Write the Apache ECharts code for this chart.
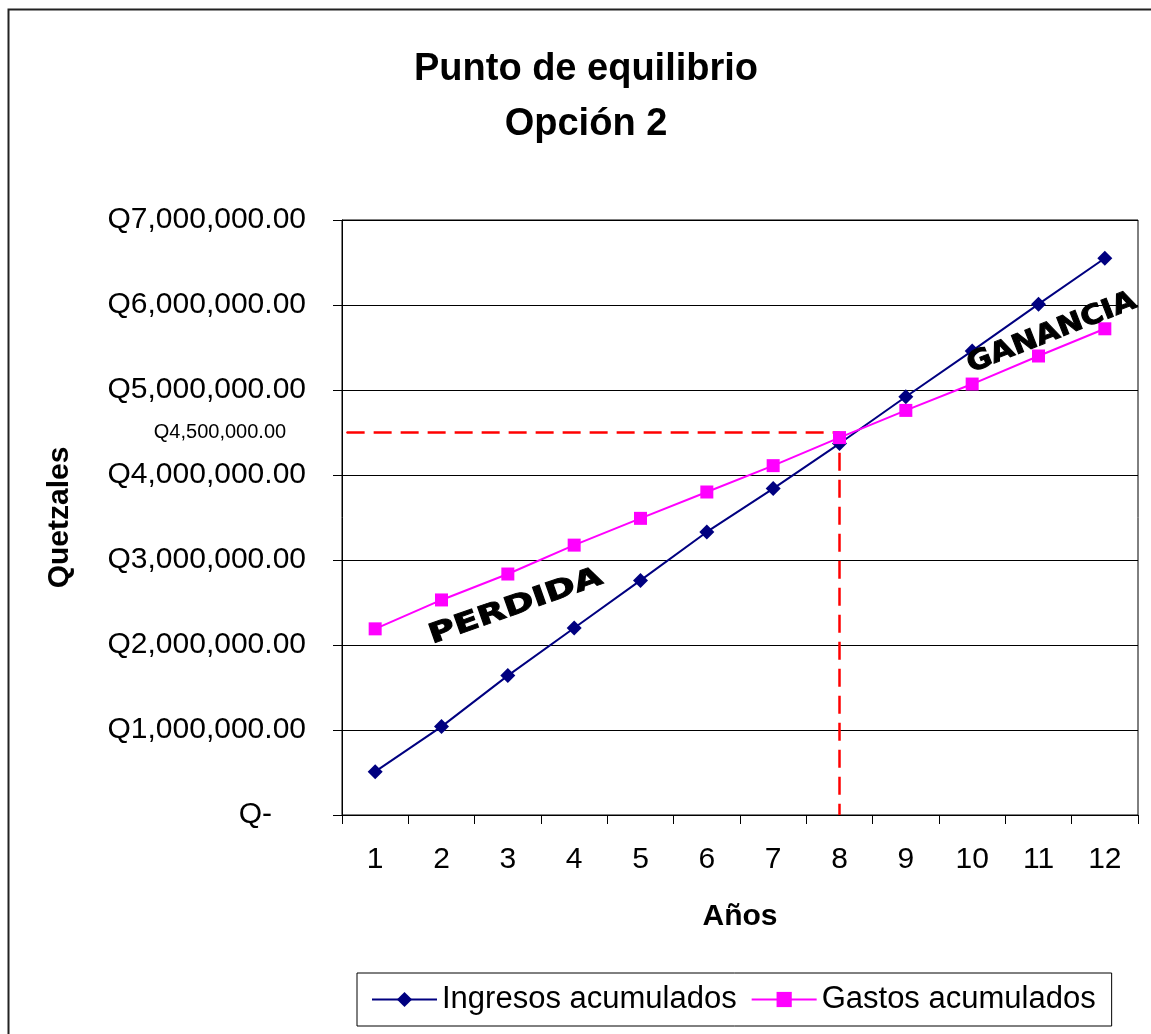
<!DOCTYPE html>
<html>
<head>
<meta charset="utf-8">
<script src="https://cdn.jsdelivr.net/npm/echarts@6/dist/echarts.min.js"></script>
<style>
  html, body { margin: 0; padding: 0; background: #fff; }
  #chart { width: 1151px; height: 1034px; }
</style>
</head>
<body>
<div id="chart"></div>
<script>
// Años del proyecto
const anios = ['1', '2', '3', '4', '5', '6', '7', '8', '9', '10', '11', '12'];
// Ingresos acumulados por año (Q)
const ingresos = [510000, 1040000, 1640000, 2200000, 2760000, 3330000, 3840000, 4370000, 4920000, 5460000, 6010000, 6550000];
// Gastos acumulados por año (Q)
const gastos = [2190000, 2530000, 2835000, 3175000, 3490000, 3800000, 4110000, 4440000, 4760000, 5070000, 5400000, 5720000];
// Punto de equilibrio
const equilibrioMonto = 4500000;
const equilibrioAnio = 8;
// Zonas rotuladas: [posición en años, monto]
const zonaPerdida = [2.62, 2450000];
const zonaGanancia = [10.7, 5670000];

const FONT = 'Arial, "Liberation Sans", sans-serif';

function formatoQ(v) {
  return 'Q' + v.toLocaleString('en-US', { minimumFractionDigits: 2, maximumFractionDigits: 2 });
}

// Columna del año de equilibrio en el eje continuo: centro de la categoría
const centroAnio = equilibrioAnio - 0.5;

const chart = echarts.init(document.getElementById('chart'), null, { renderer: 'canvas' });

const option = {
  animation: false,
  backgroundColor: '#fff',
  title: {
    text: 'Punto de equilibrio\nOpción 2',
    left: 581,
    top: 37,
    textAlign: 'center',
    textStyle: { fontFamily: FONT, fontSize: 38, fontWeight: 'bold', color: '#000', lineHeight: 55 }
  },
  grid: {
    left: 342, top: 220, right: 13, bottom: 219,
    show: true, borderColor: '#000', borderWidth: 1, backgroundColor: '#fff'
  },
  legend: {
    data: ['Ingresos acumulados', 'Gastos acumulados'],
    left: 357, top: 973,
    padding: [11, 16, 11, 14],
    itemGap: 14,
    itemWidth: 65, itemHeight: 19,
    borderColor: '#000', borderWidth: 1,
    textStyle: { fontFamily: FONT, fontSize: 31, color: '#000' }
  },
  xAxis: [
    {
      type: 'category',
      data: anios,
      boundaryGap: true,
      name: 'Años',
      nameLocation: 'middle',
      nameGap: 87,
      nameTextStyle: { fontFamily: FONT, fontSize: 30, fontWeight: 'bold', color: '#000' },
      axisLine: { lineStyle: { color: '#000', width: 1 } },
      axisTick: { show: true, length: 9, lineStyle: { color: '#000' } },
      axisLabel: { fontFamily: FONT, fontSize: 30, color: '#000', margin: 30 },
      splitLine: { show: false }
    },
    {
      type: 'value', min: 0, max: 12, show: false
    }
  ],
  yAxis: {
    type: 'value',
    min: 0, max: 7000000, interval: 1000000,
    name: 'Quetzales',
    nameLocation: 'middle',
    nameGap: 267,
    nameTextStyle: { fontFamily: FONT, fontSize: 30, fontWeight: 'bold', color: '#000' },
    axisLine: { show: true, lineStyle: { color: '#000', width: 1 } },
    axisTick: { show: true, length: 9, lineStyle: { color: '#000' } },
    axisLabel: {
      fontFamily: FONT, fontSize: 30, color: '#000', margin: 36,
      formatter: v => v === 0 ? '{z|Q-}' : formatoQ(v),
      rich: { z: { fontFamily: FONT, fontSize: 30, color: '#000', padding: [0, 34, 0, 0] } }
    },
    splitLine: { show: true, lineStyle: { color: '#000', width: 1 } }
  },
  series: [
    {
      name: 'Ingresos acumulados',
      type: 'line',
      data: ingresos,
      symbol: 'diamond',
      symbolSize: 15,
      itemStyle: { color: '#000080' },
      lineStyle: { color: '#000080', width: 2 },
      z: 3
    },
    {
      name: 'Gastos acumulados',
      type: 'line',
      data: gastos,
      symbol: 'rect',
      symbolSize: 13,
      itemStyle: { color: '#FF00FF' },
      lineStyle: { color: '#FF00FF', width: 2 },
      z: 4
    },
    {
      name: 'Equilibrio',
      type: 'line',
      xAxisIndex: 1,
      data: [
        [0.07, equilibrioMonto],
        [centroAnio, equilibrioMonto],
        [centroAnio, 0]
      ],
      symbol: 'none',
      lineStyle: { color: '#FF0000', width: 2.5, type: [18, 9] },
      markPoint: {
        silent: true,
        symbol: 'circle',
        symbolSize: 1,
        itemStyle: { color: '#FF0000' },
        label: {
          show: true, position: 'left', distance: 60,
          formatter: () => formatoQ(equilibrioMonto),
          fontFamily: FONT, fontSize: 20, color: '#000'
        },
        data: [{ coord: [0.07, equilibrioMonto] }]
      },
      z: 2,
      silent: true
    }
  ],
  graphic: [
    {
      type: 'rect', silent: true, z: 100,
      shape: { x: 8.5, y: 9.5, width: 1300, height: 1200 },
      style: { fill: 'none', stroke: '#222', lineWidth: 2 }
    }
  ]
};

chart.setOption(option);

// Rótulos de zonas, ubicados por coordenadas de datos
function rotulo(id, texto, pos, ang, escala) {
  const p = chart.convertToPixel({ xAxisIndex: 1, yAxisIndex: 0 }, pos);
  return {
    id: id, type: 'text', silent: true, z: 50,
    x: p[0], y: p[1],
    rotation: ang * Math.PI / 180,
    scaleX: escala, scaleY: 1,
    style: {
      text: texto,
      font: '900 27px "DejaVu Sans", sans-serif',
      fill: '#000', stroke: '#000', lineWidth: 1,
      align: 'center', verticalAlign: 'middle'
    }
  };
}

chart.setOption({
  graphic: [
    rotulo('perdida', 'PERDIDA', zonaPerdida, 19.5, 1.35),
    rotulo('ganancia', 'GANANCIA', zonaGanancia, 21.5, 1.12)
  ]
});
</script>
</body>
</html>
